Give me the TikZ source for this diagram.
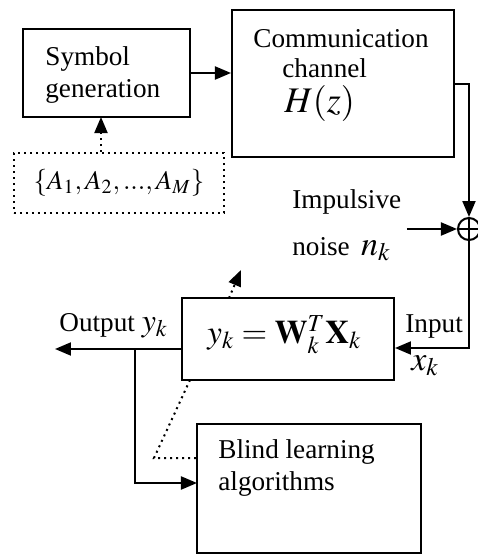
\documentclass[tikz,border=0pt]{standalone}
\usepackage{mathptmx}
\usepackage{fontspec}
\setmainfont{Liberation Serif}
\usetikzlibrary{arrows.meta}

\begin{document}
\begin{tikzpicture}[x=0.5pt, y=0.5pt, >={Triangle[length=8pt,width=6.5pt]},
  blk/.style={draw, line width=1pt, inner sep=0pt},
  lbl/.style={anchor=base west, inner sep=0pt, align=left, font=\fontsize{13.6}{16}\selectfont},
  wire/.style={line width=1pt}]
  \useasboundingbox (0,0) rectangle (478,554);
  % blocks
  \node[blk, minimum width=83.5pt, minimum height=44pt] (sym) at (106.5,481) {};
  \node[blk, minimum width=111pt, minimum height=73.5pt] (chan) at (343,470.5) {};
  \node[blk, dotted, minimum width=105pt, minimum height=30pt, font=\fontsize{13.5}{15}\selectfont] (alph) at (119,371) {$\{A_1, A_2,...,A_M\}$};
  \node[draw, circle, line width=1pt, minimum size=11pt, inner sep=0pt] (sum) at (469,325) {};
  \draw[line width=1pt] (sum.north) -- (sum.south) (sum.west) -- (sum.east);
  \node[blk, minimum width=106pt, minimum height=41pt] (filt) at (288,215) {};
  \node[blk, minimum width=112pt, minimum height=64.5pt] (blind) at (309,65.5) {};
  % labels (anchored at the baseline of the last line)
  \node[lbl] (symtxt) at (45,457) {Symbol\\generation};
  \node[lbl] (chantxt) at (253,507) {Communication};
  \node[lbl] (chantxt2) at (282,477) {channel};
  \node[lbl, font=\fontsize{18}{20}\selectfont] (hz) at (284,442) {$H(z)$};
  \node[lbl] (noisetxt) at (292,346) {Impulsive};
  \node[lbl] (noisetxt2) at (292,299) {noise\, {\fontsize{17}{17}\selectfont$n_k$}};
  \node[lbl] (outtxt) at (59,223) {Output {\fontsize{16}{16}\selectfont$y_k$}};
  \node[lbl, font=\fontsize{16.5}{20}\selectfont] (eq) at (207,211) {$y_k=\mathbf{W}_k^T\mathbf{X}_k$};
  \node[lbl] (intxt) at (405,222) {Input};
  \node[lbl, font=\fontsize{17}{17}\selectfont] (xk) at (411,184) {$x_k$};
  \node[lbl] (blindtxt) at (218,64) {Blind learning\\algorithms};
  % helper points
  \coordinate (symin) at (101,437);
  \coordinate (nsrc) at (407,325);
  \coordinate (fin) at (469,206);
  \coordinate (fout) at (55,205);
  \coordinate (tap) at (135,205);
  \coordinate (blin) at (197,71);
  \coordinate (adlo) at (229,256);
  \coordinate (adtop) at (241,284);
  \coordinate (fbtop) at (190,174);
  \coordinate (fbcorner) at (154,96);
  % forward path
  \draw[wire,->] (sym.east) -- (sym.east -| chan.west);
  \draw[wire,->,dotted] (symin |- alph.north) -- (symin);
  \draw[wire,->] (chan.east) -| (sum.north);
  \draw[wire,->] (nsrc) -- (sum.west);
  \draw[wire,->] (sum.south) -- (fin) -- (fin -| filt.east);
  \draw[wire,->] (filt.west |- fout) -- (fout);
  % learning loop
  \draw[wire,->] (tap) |- (blin);
  \draw[wire,dotted,->] (adlo) -- (adtop);
  \draw[wire,dotted] (fbtop) -- (fbcorner) -- (fbcorner -| blind.west);
\end{tikzpicture}
\end{document}
